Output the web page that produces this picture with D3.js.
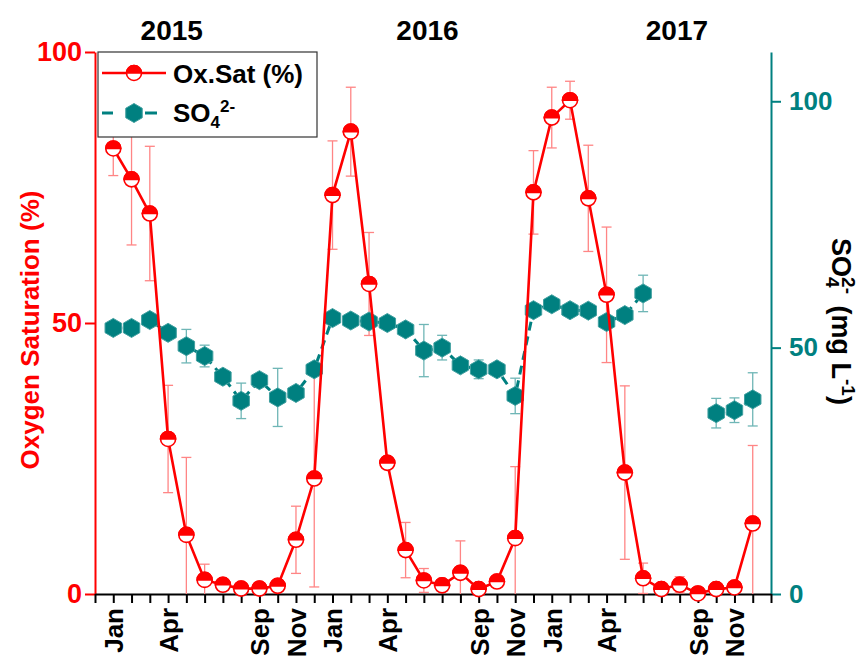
<!DOCTYPE html>
<html lang="en">
<head>
<meta charset="utf-8">
<title>Oxygen saturation and sulfate</title>
<script src="https://d3js.org/d3.v7.min.js"></script>
<style>
  body { margin: 0; background: #fff; }
  svg text { font-family: "Liberation Sans", Arial, sans-serif; font-weight: bold; }
</style>
</head>
<body>
<div id="chart"></div>

<script>

// month index: 0 = Jan 2015 ... 35 = Dec 2017
var oxSat = [82.2, 76.5, 70.2, 28.6, 10.9, 2.6, 1.7, 1.0, 1.0, 1.5, 10.0, 21.3,
             73.6, 85.3, 57.2, 24.2, 8.1, 2.5, 1.6, 3.9, 0.9, 2.3, 10.3, 74.1,
             87.9, 91.1, 73.0, 55.2, 22.4, 2.9, 0.9, 1.7, 0.1, 0.9, 1.2, 13.0];
var oxErr = [5.0, 12.1, 12.4, 9.9, 14.3, 2.9, 0.5, 0.3, 0.3, 0.5, 6.2, 20.0,
             10.0, 8.2, 9.5, 0.5, 5.1, 2.2, 0.5, 5.9, 0.5, 0.5, 13.2, 7.7,
             5.6, 3.5, 9.8, 12.5, 16.0, 2.8, 0.5, 1.5, 0.3, 0.5, 0.5, 14.4];

var so4 = [54.0, 54.0, 55.6, 53.0, 50.3, 48.3, 44.1, 39.2, 43.4, 39.9, 40.8, 45.6,
           56.0, 55.5, 55.3, 55.0, 53.7, 49.4, 50.0, 46.4, 45.6, 45.6, 40.2, 57.6,
           58.8, 57.6, 57.5, 55.2, 56.6, 61.0, null, null, null, 36.7, 37.3, 39.5];
var so4Err = [0, 0, 0, 0, 3.4, 2.2, 0, 3.6, 0, 5.9, 0, 0,
              0, 0, 0, 0, 0, 5.3, 2.5, 0, 1.9, 0, 3.6, 0,
              0, 0, 0, 0, 0, 3.7, null, null, null, 3.0, 2.5, 5.4];

var monthTicks = [0, 3, 8, 10, 12, 15, 20, 22, 24, 27, 32, 34];
var monthNames = ["Jan", "Apr", "Sep", "Nov", "Jan", "Apr", "Sep", "Nov", "Jan", "Apr", "Sep", "Nov"];
var years = ["2015", "2016", "2017"];
var yearPos = [3.2, 17.2, 30.85];

var RED = "#ff0000", TEAL = "#008080";

var width = 862, height = 664;
var svg = d3.select("#chart")
  .append("svg")
  .attr("width", width)
  .attr("height", height);

// scales
var x = d3.scaleLinear().domain([-1, 36]).range([95, 771]);
var yL = d3.scaleLinear().domain([0, 100]).range([594, 52]);
var yR = d3.scaleLinear().domain([0, 110]).range([594, 52]);

var minor = [50 / 3, 100 / 3, 200 / 3, 250 / 3];

// ---- axes ----
// left (red)
var gL = svg.append("g").attr("transform", "translate(95,0)");
gL.call(d3.axisLeft(yL).tickValues(minor).tickSize(6).tickSizeOuter(0).tickFormat(""));
gL.call(d3.axisLeft(yL).tickValues([0, 50, 100]).tickSize(10).tickSizeOuter(0).tickPadding(3));
gL.selectAll("path, line").attr("stroke", RED).attr("stroke-width", 2);
gL.selectAll("text").attr("fill", RED).style("font-size", "27px");

// right (teal)
var gR = svg.append("g").attr("transform", "translate(771,0)");
gR.call(d3.axisRight(yR).tickValues(minor).tickSize(6).tickSizeOuter(0).tickFormat(""));
gR.call(d3.axisRight(yR).tickValues([0, 50, 100]).tickSize(10).tickSizeOuter(0).tickPadding(8));
gR.selectAll("path, line").attr("stroke", TEAL).attr("stroke-width", 2);
gR.selectAll("text").attr("fill", TEAL).style("font-size", "26px");

// bottom (black), a tick every month
var labelOf = {};
monthTicks.forEach(function(m, i) { labelOf[m] = monthNames[i]; });
var gB = svg.append("g").attr("transform", "translate(0,594)");
gB.call(d3.axisBottom(x).tickValues(d3.range(-1, 37)).tickSize(9).tickSizeOuter(0)
  .tickFormat(function(d) { return labelOf[d] || ""; }));
gB.selectAll("path, line").attr("stroke", "#000").attr("stroke-width", 2);
gB.selectAll("text")
  .attr("fill", "#000")
  .style("font-size", "26px")
  .style("text-anchor", "end")
  .attr("transform", "rotate(-90)")
  .attr("x", -14)
  .attr("y", 0)
  .attr("dy", "0.36em");

// year labels
svg.selectAll(".year")
  .data(years)
  .enter().append("text")
  .attr("class", "year")
  .attr("x", function(d, i) { return x(yearPos[i]); })
  .attr("y", 40)
  .attr("text-anchor", "middle")
  .style("font-size", "28px")
  .text(function(d) { return d; });

// axis titles
svg.append("text")
  .attr("transform", "translate(39,330) rotate(-90)")
  .attr("text-anchor", "middle")
  .attr("fill", RED)
  .style("font-size", "26px")
  .text("Oxygen Saturation (%)");

var rt = svg.append("text")
  .attr("transform", "translate(832,238) rotate(90)")
  .attr("fill", "#000")
  .style("font-size", "27px");
rt.append("tspan").text("SO");
rt.append("tspan").style("font-size", "19px").attr("dy", 6).text("4");
rt.append("tspan").style("font-size", "19px").attr("dx", -10.5).attr("dy", -16).text("2-");
rt.append("tspan").attr("dx", 4).attr("dy", 10).text(" (mg L");
rt.append("tspan").style("font-size", "19px").attr("dy", -10).text("-1");
rt.append("tspan").attr("dy", 10).text(")");

// ---- marks ----
function errBars(g, vals, errs, yScale, color) {
  vals.forEach(function(v, i) {
    var e = errs[i];
    if (v === null || !e) return;
    var lo = Math.max(0, v - e), hi = v + e;
    var cx = x(i);
    g.append("line").attr("x1", cx).attr("x2", cx)
      .attr("y1", yScale(lo)).attr("y2", yScale(hi))
      .attr("stroke", color).attr("stroke-width", 1.3);
    g.append("line").attr("x1", cx - 5).attr("x2", cx + 5)
      .attr("y1", yScale(hi)).attr("y2", yScale(hi))
      .attr("stroke", color).attr("stroke-width", 1.3);
    if (v - e >= 0) {
      g.append("line").attr("x1", cx - 5).attr("x2", cx + 5)
        .attr("y1", yScale(lo)).attr("y2", yScale(lo))
        .attr("stroke", color).attr("stroke-width", 1.3);
    }
  });
}

var hexR = 9.5;
var hexPath = d3.range(6).map(function(k) {
  var a = (-90 + 60 * k) * Math.PI / 180;
  return [hexR * Math.cos(a), hexR * Math.sin(a)];
});
hexPath = "M" + hexPath.join("L") + "Z";

function drawHex(g, cx, cy) {
  g.append("path")
    .attr("d", hexPath)
    .attr("transform", "translate(" + cx + "," + cy + ")")
    .attr("fill", TEAL)
    .attr("stroke", "#3f9f9f")
    .attr("stroke-width", 1);
}

function drawHalfCircle(g, cx, cy) {
  var r = 7.5;
  var m = g.append("g").attr("transform", "translate(" + cx + "," + cy + ")");
  m.append("circle").attr("r", r).attr("fill", "#fff").attr("stroke", RED).attr("stroke-width", 1.6);
  m.append("path")
    .attr("d", "M" + (-r) + ",0A" + r + "," + r + " 0 0 1 " + r + ",0Z")
    .attr("fill", RED).attr("stroke", RED).attr("stroke-width", 1.6);
}

var gRedErr = svg.append("g");
errBars(gRedErr, oxSat, oxErr, yL, "#ff8585");

var gTeal = svg.append("g");
errBars(gTeal, so4, so4Err, yR, "#6fb6b6");

gTeal.append("path")
  .datum(so4)
  .attr("fill", "none")
  .attr("stroke", TEAL)
  .attr("stroke-width", 3)
  .attr("stroke-dasharray", "9,6")
  .attr("d", d3.line()
    .defined(function(d) { return d !== null; })
    .x(function(d, i) { return x(i); })
    .y(function(d) { return yR(d); }));

so4.forEach(function(v, i) {
  if (v !== null) drawHex(gTeal, x(i), yR(v));
});

var gRed = svg.append("g");
gRed.append("path")
  .datum(oxSat)
  .attr("fill", "none")
  .attr("stroke", RED)
  .attr("stroke-width", 2.6)
  .attr("d", d3.line()
    .x(function(d, i) { return x(i); })
    .y(function(d) { return yL(d); }));

oxSat.forEach(function(v, i) {
  drawHalfCircle(gRed, x(i), yL(v));
});

// ---- legend ----
var lg = svg.append("g");
lg.append("rect")
  .attr("x", 98).attr("y", 52).attr("width", 219).attr("height", 85)
  .attr("fill", "#fff").attr("stroke", "#333").attr("stroke-width", 1.2);

lg.append("line").attr("x1", 102).attr("x2", 166).attr("y1", 73).attr("y2", 73)
  .attr("stroke", RED).attr("stroke-width", 2.6);
drawHalfCircle(lg, 134, 73);
lg.append("text").attr("x", 173).attr("y", 83).style("font-size", "26px").text("Ox.Sat (%)");

lg.append("line").attr("x1", 102).attr("x2", 113).attr("y1", 113).attr("y2", 113)
  .attr("stroke", TEAL).attr("stroke-width", 3);
lg.append("line").attr("x1", 145).attr("x2", 157).attr("y1", 113).attr("y2", 113)
  .attr("stroke", TEAL).attr("stroke-width", 3);
drawHex(lg, 134, 113);
var lt = lg.append("text").attr("x", 173).attr("y", 122).style("font-size", "26px");
lt.append("tspan").text("SO");
lt.append("tspan").style("font-size", "17px").attr("dy", 6).text("4");
lt.append("tspan").style("font-size", "17px").attr("dy", -16).text("2-");

</script>
</body>
</html>
